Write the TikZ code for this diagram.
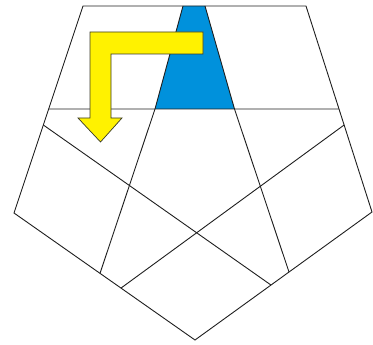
\documentclass[tikz,border=0pt]{standalone}
\usepackage{tikz}
\usetikzlibrary{calc}
\usepackage{xcolor}
\definecolor{Ink}{HTML}{1E1E1E}
\definecolor{Sky}{HTML}{0091DC}
\definecolor{Lemon}{HTML}{FFF200}
\definecolor{LemonEdge}{HTML}{3A3A2A}
\begin{document}
\begin{tikzpicture}[x=1pt,y=-1pt, rim/.style={draw=Ink,line width=.9pt,line join=miter}, cut/.style={draw=Ink,line width=.9pt}]
\useasboundingbox (0,0) rectangle (373,345);
% outer pentagon corners
\coordinate (tl) at (83,6); \coordinate (tr) at (306,6); \coordinate (rt) at (372,212);
\coordinate (bt) at (195,340); \coordinate (lf) at (14,213);
% points on the sides
\coordinate (hl) at ($(tl)!103/207!(lf)$); \coordinate (hr) at ($(tr)!103/206!(rt)$);
\coordinate (cl) at ($(tl)!119/207!(lf)$); \coordinate (cr) at ($(tr)!119/206!(rt)$);
\coordinate (bl1) at ($(lf)!86/181!(bt)$); \coordinate (bl2) at ($(lf)!107/181!(bt)$);
\coordinate (br1) at ($(bt)!76/177!(rt)$); \coordinate (br2) at ($(bt)!94/177!(rt)$);
\coordinate (sa) at (183,6); \coordinate (sb) at (205,6);
\coordinate (ma) at (155,109); \coordinate (mb) at (234.5,109);
% blue piece
\fill[Sky] (sa)--(sb)--(mb)--(ma)--cycle;
% cuts
\draw[cut] (hl)--(hr);
\draw[cut] (sa)--(ma)--(bl1);
\draw[cut] (sb)--(mb)--(br2);
\draw[cut] (cl)--(br1);
\draw[cut] (cr)--(bl2);
\draw[rim] (tl)--(tr)--(rt)--(bt)--(lf)--cycle;
% yellow arrow
\draw[fill=Lemon,draw=LemonEdge,line width=.7pt] (203,32)--(90,32)--(90,118)--(78,118)--(100.5,142)--(122,118)--(111,118)--(111,54)--(203,54)--cycle;
\end{tikzpicture}
\end{document}
